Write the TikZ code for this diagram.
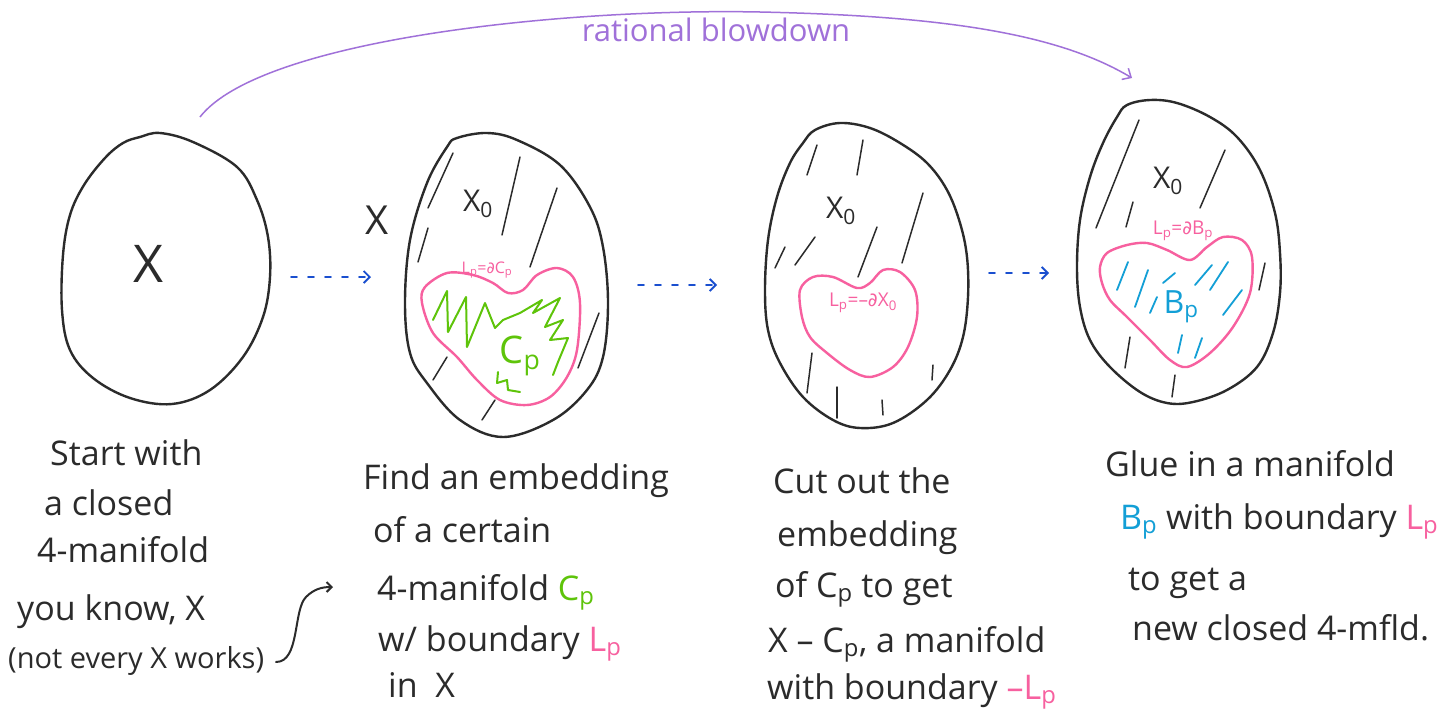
\documentclass[tikz,border=0pt]{standalone}
\usepackage{fontspec}
\setmainfont{Open Sans}
\newfontfamily\symf{DejaVu Sans}
\usetikzlibrary{arrows.meta}
\definecolor{ink}{HTML}{2B2B2B}
\definecolor{rose}{HTML}{F7609F}
\definecolor{leaf}{HTML}{5EC40A}
\definecolor{sky}{HTML}{139FD6}
\definecolor{lilac}{HTML}{A071D9}
\definecolor{flow}{HTML}{1A4FCF}
\newcommand{\dsub}[1]{\textsubscript{#1}}
\tikzset{
  outline/.style={draw=ink, line width=2.4pt, line join=round},
  hatch/.style={draw=ink, line width=1.5pt, line cap=round},
  bluehatch/.style={draw=sky, line width=1.8pt, line cap=round},
  border/.style={draw=rose, line width=2.4pt, line join=round},
  flowarrow/.style={draw=flow, line width=1.8pt, line cap=round,
    dash pattern=on 6pt off 11pt, -{Straight Barb[length=6pt,width=12pt,line width=1.8pt]}},
  txt/.style={anchor=base west, inner sep=0pt, text=ink, font=\fontsize{34}{40}\selectfont},
  small/.style={inner sep=0pt, text=rose, font=\fontsize{19}{22}\selectfont},
}
\begin{document}
\begin{tikzpicture}[x=1pt, y=-1pt]
\useasboundingbox[fill=white] (0,0) rectangle (1449,715);

% ---- first blob: the closed manifold X
\draw[outline] plot[smooth cycle, tension=0.6] coordinates {
  (140,137) (160,133) (193,142) (237,167) (257,200) (268,237) (270,277)
  (263,317) (243,357) (210,390) (172,404) (130,398) (93,378) (70,350)
  (62,310) (63,255) (70,215) (84,185) (105,158) (123,143)};
\node[inner sep=0pt, text=ink, font=\fontsize{52}{60}\selectfont] (xa) at (149,264) {X};

% ---- second blob: X with the embedded C_p
\draw[outline] plot[smooth cycle, tension=0.6] coordinates {
  (457,138) (487,133) (517,140) (560,165) (590,207) (603,247) (608,303)
  (603,357) (587,390) (553,420) (503,437) (460,420) (427,383) (410,353)
  (405,303) (410,240) (427,183) (447,147)};
\foreach \a/\b in {{(453,153)/(428,208)}, {(428,228)/(418,262)}, {(520,157)/(502,235)},
  {(557,188)/(530,267)}, {(599,313)/(578,368)}, {(447,357)/(433,380)}, {(495,400)/(482,420)}}
  \draw[hatch] \a -- \b;
\draw[border] plot[smooth cycle, tension=0.55] coordinates {
  (425,287) (447,273) (473,275) (493,283) (508,293) (523,290) (537,275)
  (557,268) (573,277) (580,303) (577,350) (567,377) (550,397) (527,405)
  (500,400) (477,380) (457,357) (433,333) (422,303)};
\draw[leaf, line width=2pt, line join=round, line cap=round]
  (433,320) -- (447,291) -- (448,332) -- (466,297) -- (467,347) -- (485,303)
  -- (495,328) -- (503,320) -- (520,313) -- (542,300) -- (533,313) -- (560,298)
  -- (545,327) -- (563,320) -- (550,340) -- (568,338) -- (558,362) -- (553,375);
\draw[leaf, line width=2pt, line join=round, line cap=round]
  (498,372) -- (497,383) -- (507,380) -- (508,390) -- (520,392);
\node[inner sep=0pt, text=leaf, font=\fontsize{38}{44}\selectfont] (cp) at (520,356) {C\dsub{p}};
\node[small, font=\fontsize{16}{18}\selectfont] (lcp) at (487,270) {L\dsub{p}={\symf ∂}C\dsub{p}};
\node[inner sep=0pt, text=ink, font=\fontsize{30}{34}\selectfont] (x0b) at (478,204) {X\dsub{0}};
\node[inner sep=0pt, text=ink, font=\fontsize{40}{46}\selectfont] (xb) at (377,220) {X};

% ---- third blob: the complement X_0
\draw[outline] plot[smooth cycle, tension=0.6] coordinates {
  (815,130) (840,123) (870,128) (900,143) (927,163) (947,190) (960,223)
  (967,257) (968,297) (963,337) (950,370) (927,400) (893,423) (860,428)
  (833,420) (803,397) (780,363) (768,330) (765,290) (768,240) (777,197)
  (790,163) (803,143)};
\foreach \a/\b in {{(817,145)/(807,175)}, {(863,140)/(857,175)}, {(815,237)/(795,265)},
  {(785,247)/(775,268)}, {(923,193)/(902,263)}, {(877,227)/(858,277)}, {(812,353)/(807,393)},
  {(837,387)/(837,418)}, {(882,400)/(883,415)}, {(933,365)/(932,380)}}
  \draw[hatch] \a -- \b;
\draw[border] plot[smooth cycle, tension=0.55] coordinates {
  (800,290) (813,277) (833,277) (857,288) (870,283) (883,270) (900,272)
  (915,290) (917,317) (908,347) (893,367) (870,377) (850,370) (827,353)
  (810,337) (802,317)};
\node[small] (lx0) at (863,303) {L\dsub{p}=–{\symf ∂}X\dsub{0}};
\node[inner sep=0pt, text=ink, font=\fontsize{30}{34}\selectfont] (x0c) at (841,211) {X\dsub{0}};

% ---- fourth blob: X_0 glued to B_p
\draw[outline] plot[smooth cycle, tension=0.6] coordinates {
  (1127,105) (1150,100) (1177,103) (1210,117) (1237,137) (1260,170) (1275,213)
  (1280,253) (1280,293) (1273,333) (1257,367) (1227,390) (1193,402) (1167,403)
  (1140,392) (1110,367) (1090,340) (1080,307) (1077,267) (1080,220) (1090,177)
  (1103,143) (1117,117)};
\foreach \a/\b in {{(1139,120)/(1096,228)}, {(1133,202)/(1126,227)}, {(1225,150)/(1200,208)},
  {(1265,263)/(1259,290)}, {(1130,337)/(1125,368)}, {(1175,375)/(1172,397)}}
  \draw[hatch] \a -- \b;
\draw[border] plot[smooth cycle, tension=0.55] coordinates {
  (1100,267) (1107,253) (1127,245) (1147,243) (1167,250) (1190,260) (1207,247)
  (1223,237) (1242,240) (1252,257) (1250,293) (1233,327) (1210,353) (1187,367)
  (1170,360) (1150,340) (1127,317) (1110,300) (1102,283)};
\foreach \a/\b in {{(1128,262)/(1117,290)}, {(1148,270)/(1135,307)}, {(1157,297)/(1150,313)},
  {(1175,273)/(1163,283)}, {(1212,265)/(1195,285)}, {(1228,262)/(1210,290)},
  {(1242,290)/(1223,315)}, {(1182,335)/(1178,353)}, {(1202,338)/(1195,358)}}
  \draw[bluehatch] \a -- \b;
\node[small] (lbp) at (1183,231) {L\dsub{p}={\symf ∂}B\dsub{p}};
\node[inner sep=0pt, text=sky, font=\fontsize{32}{36}\selectfont] (bp) at (1181,307) {B\dsub{p}};
\node[inner sep=0pt, text=ink, font=\fontsize{30}{34}\selectfont] (x0d) at (1168,181) {X\dsub{0}};

% ---- dashed arrows between the stages
\coordinate (s1) at (291,277);  \coordinate (e1) at (371,277);
\coordinate (s2) at (638,285);  \coordinate (e2) at (717,285);
\coordinate (s3) at (989,273);  \coordinate (e3) at (1049,273);
\draw[flowarrow] (s1) -- (e1);
\draw[flowarrow] (s2) -- (e2);
\draw[flowarrow] (s3) -- (e3);

% ---- the rational blowdown arc
\coordinate (rs) at (200,117);
\coordinate (re) at (1132,78);
\draw[lilac, line width=1.5pt, -{Straight Barb[length=7pt,width=13pt,line width=1.5pt]}]
  (rs) .. controls (260,40) and (560,8) .. (760,12) .. controls (950,16) and (1060,35) .. (re);
\node[inner sep=0pt, text=lilac, font=\fontsize{31}{34}\selectfont] (rb) at (716,30) {rational blowdown};

% ---- captions
\node[txt] (t11) at (50,465) {Start with};
\node[txt] (t12) at (44,515) {a closed};
\node[txt] (t13) at (37,562) {4-manifold};
\node[txt] (t14) at (17,620) {you know, X};
\node[txt, font=\fontsize{29}{32}\selectfont] (t15) at (8,668) {(not every X works)};
\coordinate (cs) at (276,662);
\coordinate (ce) at (333,587);
\draw[ink, line width=2pt, line cap=round, -{Straight Barb[length=5pt,width=10pt,line width=2pt]}]
  (cs) .. controls (300,662) and (293,610) .. (306,597) .. controls (314,589) and (322,587) .. (ce);

\node[txt] (t21) at (363,489) {Find an embedding};
\node[txt] (t22) at (373,542) {of a certain};
\node[txt] (t23) at (377,600) {4-manifold \textcolor{leaf}{C\dsub{p}}};
\node[txt] (t24) at (378,651) {w/ boundary \textcolor{rose}{L\dsub{p}}};
\node[txt] (t25) at (388,697) {in\ \ X};

\node[txt] (t31) at (773,493) {Cut out the};
\node[txt] (t32) at (777,546) {embedding};
\node[txt] (t33) at (775,597) {of C\dsub{p} to get};
\node[txt] (t34) at (768,652) {X – C\dsub{p}, a manifold};
\node[txt] (t35) at (767,699) {with boundary \textcolor{rose}{–L\dsub{p}}};

\node[txt] (t41) at (1105,476) {Glue in a manifold};
\node[txt] (t42) at (1120,529) {\textcolor{sky}{B\dsub{p}} with boundary \textcolor{rose}{L\dsub{p}}};
\node[txt] (t43) at (1128,590) {to get a};
\node[txt] (t44) at (1132,640) {new closed 4-mfld.};
\end{tikzpicture}
\end{document}
